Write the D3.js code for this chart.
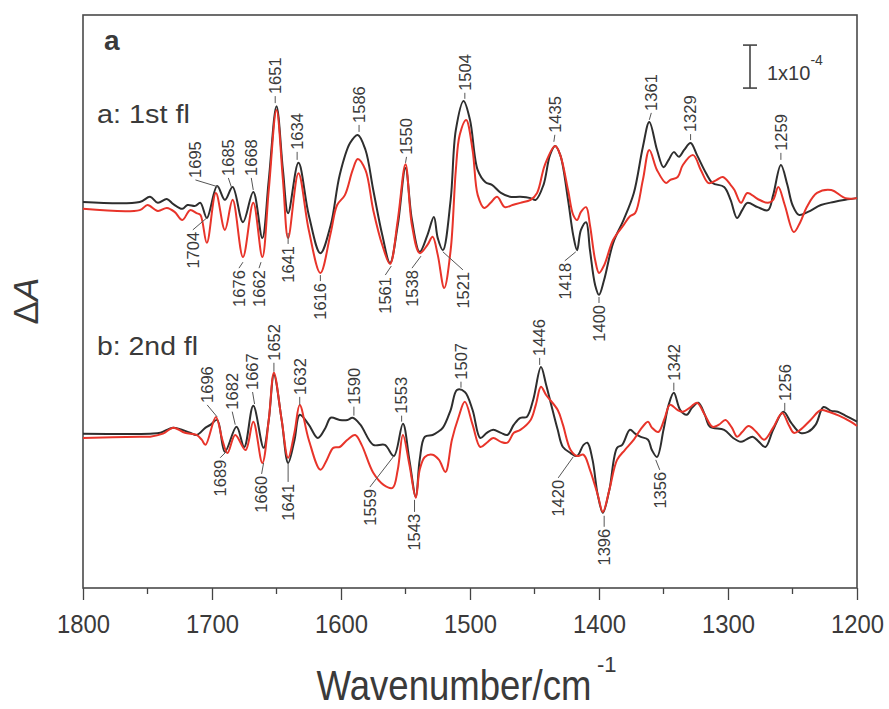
<!DOCTYPE html>
<html>
<head>
<meta charset="utf-8">
<script src="https://d3js.org/d3.v7.min.js"></script>
<style>
    body { margin: 0; background: #fff; }
    svg text { font-family: "Liberation Sans", Arial, sans-serif; fill: #3a3a3a; }
</style>
</head>
<body>
<svg width="889" height="709"></svg>
<script>
"use strict";

// difference spectra, ΔA in units of 1e-4, [wavenumber, value]
// a: 1st flash
var aBlack = [[1800,0.07],[1756,0.07],[1748,0.19],[1742,0.05],[1735,0.14],[1730,0.02],[1723,-0.09],[1719,0],[1713,-0.02],[1709,0.05],[1704,-0.30],[1696,0.44],[1690,0.12],[1684,0.42],[1676,-0.40],[1668,0.30],[1661,-0.77],[1656,0.58],[1650,2.30],[1645,0.81],[1641,-0.19],[1633,0.98],[1625,-0.23],[1616,-1.12],[1608,-0.47],[1601,0.70],[1593,1.44],[1587,1.63],[1581,1.28],[1575,0.35],[1568,-0.70],[1562,-1.35],[1556,-0.47],[1550,0.86],[1545,-0.35],[1539,-1.09],[1533,-0.70],[1528,-0.28],[1525,-0.77],[1521,-1.05],[1515,0.12],[1511,1.74],[1505,2.42],[1500,1.98],[1494,0.81],[1488,0.53],[1483,0.47],[1476,0.28],[1469,0.19],[1461,0.19],[1453,0.16],[1449,0.12],[1443,0.47],[1438,1.16],[1434,1.37],[1430,1.16],[1424,0.12],[1420,-0.70],[1417,-1.05],[1414,-0.58],[1410,-0.40],[1407,-1.05],[1403,-1.86],[1400,-2.09],[1396,-1.74],[1389,-0.88],[1381,-0.35],[1373,0.28],[1366,1.35],[1361,1.93],[1355,1.28],[1350,0.88],[1346,1.05],[1342,1.23],[1338,1.12],[1334,1.28],[1329,1.44],[1324,1.16],[1317,0.74],[1312,0.51],[1303,0.42],[1298,0.12],[1293,-0.30],[1289,-0.12],[1285,0.05],[1277,-0.05],[1269,-0.12],[1265,0.23],[1259,0.93],[1254,0.47],[1250,0],[1245,-0.23],[1238,-0.16],[1228,0],[1218,0.07],[1209,0.12],[1200,0.16]];
var aRed = [[1800,-0.09],[1756,-0.12],[1750,0],[1742,-0.14],[1735,-0.07],[1729,-0.16],[1723,-0.35],[1717,-0.12],[1712,-0.19],[1709,-0.23],[1704,-0.88],[1697,0.28],[1690,-0.58],[1684,0.12],[1676,-1.21],[1668,0.05],[1661,-1.21],[1656,0.35],[1650,2.21],[1645,0.58],[1641,-0.77],[1633,0.74],[1625,-0.58],[1616,-1.58],[1608,-0.65],[1603,0],[1597,0.23],[1591,0.81],[1587,1.07],[1581,0.81],[1575,-0.12],[1568,-0.93],[1562,-1.37],[1556,-0.35],[1550,0.95],[1545,-0.47],[1539,-1.12],[1533,-0.93],[1529,-0.74],[1525,-1.16],[1520,-1.93],[1515,-1.05],[1511,0.81],[1508,1.63],[1503,1.98],[1498,1.28],[1494,0.23],[1489,-0.07],[1484,0.05],[1479,0.19],[1473,-0.05],[1467,0],[1461,0.05],[1453,0.12],[1448,0.28],[1442,0.93],[1434,1.37],[1430,1.16],[1424,0.35],[1420,-0.23],[1417,-0.35],[1414,-0.16],[1410,-0.05],[1407,-0.47],[1403,-1.28],[1400,-1.58],[1396,-1.40],[1389,-0.81],[1381,-0.47],[1376,-0.26],[1372,-0.19],[1366,0.58],[1361,1.28],[1355,0.81],[1348,0.51],[1345,0.58],[1339,0.65],[1335,0.93],[1327,1.16],[1321,0.81],[1315,0.51],[1309,0.58],[1304,0.65],[1298,0.47],[1295,0.35],[1290,0.05],[1285,0.28],[1277,0.14],[1269,0.05],[1265,0.12],[1261,0.42],[1256,0],[1249,-0.63],[1244,-0.40],[1239,-0.05],[1231,0.28],[1220,0.35],[1209,0.16],[1200,0.16]];
// b: 2nd flash
var bBlack = [[1800,0.05],[1748,0.05],[1740,0.07],[1730,0.19],[1717,0.07],[1712,0.02],[1705,0.19],[1701,0.26],[1696,0.37],[1690,-0.37],[1681,0.21],[1675,-0.26],[1668,0.70],[1660,-0.28],[1656,0.37],[1652,1.42],[1646,0.37],[1641,-0.63],[1636,-0.09],[1632,0.49],[1625,0.26],[1618,-0.05],[1612,0.19],[1608,0.42],[1601,0.37],[1595,0.37],[1591,0.42],[1585,0.26],[1575,-0.21],[1566,-0.21],[1559,-0.47],[1552,0.28],[1547,-0.56],[1542,-1.42],[1539,-0.56],[1535,-0.02],[1529,0.02],[1525,0.09],[1521,0.19],[1515,0.60],[1510,1.07],[1504,1.02],[1498,0.60],[1492,-0.05],[1487,0.07],[1482,0.14],[1476,0.07],[1471,0.02],[1466,0.26],[1461,0.42],[1456,0.44],[1451,0.84],[1445,1.60],[1441,1.19],[1436,0.60],[1432,0.14],[1428,-0.26],[1422,-0.40],[1417,-0.47],[1412,-0.21],[1409,-0.16],[1405,-0.56],[1401,-1.37],[1397,-1.79],[1392,-1.26],[1386,-0.28],[1382,-0.21],[1376,0.14],[1372,0.05],[1368,-0.02],[1362,-0.09],[1359,-0.33],[1355,-0.49],[1350,0.14],[1346,0.72],[1342,1.00],[1337,0.60],[1332,0.49],[1328,0.65],[1323,0.77],[1318,0.49],[1314,0.21],[1303,0.14],[1296,-0.05],[1290,-0.14],[1286,-0.09],[1281,-0.02],[1276,-0.14],[1271,-0.26],[1265,0.14],[1257,0.56],[1251,0.30],[1244,0.07],[1238,0.09],[1232,0.26],[1226,0.67],[1220,0.58],[1215,0.56],[1209,0.47],[1200,0.33]];
var bRed = [[1800,-0.05],[1756,-0.02],[1748,-0.02],[1738,0.05],[1730,0.19],[1721,0.07],[1712,0.02],[1708,-0.09],[1705,-0.21],[1697,0.44],[1692,-0.09],[1688,-0.40],[1682,0.02],[1674,-0.33],[1668,0.33],[1661,-0.63],[1656,0.37],[1652,1.47],[1646,0.37],[1641,-0.51],[1636,0.09],[1632,0.72],[1625,-0.09],[1616,-0.79],[1611,-0.56],[1606,-0.28],[1601,-0.26],[1595,-0.09],[1589,0.02],[1584,-0.21],[1575,-0.86],[1567,-1.14],[1560,-1.21],[1556,-0.79],[1552,0.02],[1547,-0.67],[1542,-1.44],[1539,-0.79],[1535,-0.49],[1529,-0.44],[1524,-0.56],[1519,-0.84],[1514,-0.09],[1509,0.42],[1504,0.79],[1498,0.26],[1492,-0.26],[1487,-0.16],[1482,-0.05],[1476,-0.14],[1471,-0.16],[1466,0.07],[1461,0.14],[1453,0.37],[1449,0.72],[1445,1.14],[1441,0.95],[1432,0.60],[1428,0.26],[1422,-0.33],[1417,-0.47],[1412,-0.44],[1407,-0.79],[1401,-1.37],[1397,-1.77],[1392,-1.26],[1386,-0.56],[1380,-0.33],[1373,-0.09],[1368,0.14],[1362,0.33],[1359,0.19],[1354,0.09],[1349,0.42],[1345,0.72],[1339,0.60],[1335,0.56],[1329,0.67],[1324,0.77],[1318,0.49],[1312,0.21],[1307,0.26],[1302,0.37],[1297,0.19],[1293,-0.02],[1289,0.09],[1284,0.23],[1278,0.09],[1272,-0.09],[1265,0.19],[1258,0.53],[1253,0.26],[1249,0.07],[1244,0.14],[1236,0.37],[1228,0.60],[1222,0.56],[1214,0.47],[1205,0.33],[1200,0.23]];

var majorTicks = [1800, 1700, 1600, 1500, 1400, 1300, 1200];
var minorTicks = [1750, 1650, 1550, 1450, 1350, 1250];

// peak labels: [wavenumber, ΔA at the tip, leader dx, leader dy]
var aPeaksUp = [[1695,0.42,-23,-7],[1685,0.42,-3,-9],[1668,0.35,-2,-12],[1651,2.37,0,-7],[1634,1.05,0,-8],[1586,1.70,0,-7],[1550,0.98,1,-6],[1504,2.47,0,-6],[1435,1.47,1,-7],[1361,1.98,2,-7],[1329,1.51,0,-6],[1259,1.05,0,-7]];
var aPeaksDown = [[1704,-0.30,-14,12],[1676,-1.33,-4,6],[1662,-1.33,-2,6],[1641,-0.65,0,11],[1616,-1.63,0,6],[1561,-1.42,-6,9],[1538,-1.19,-9,12],[1521,-1.09,20,18],[1418,-1.09,-11,9],[1400,-2.14,0,6]];
var bPeaksUp = [[1696,0.44,-10,-12],[1682,0.26,-3,-13],[1667,0.74,-2,-12],[1652,1.49,0,-9],[1632,0.72,0,-8],[1590,0.47,0,-9],[1553,0.33,0,-6],[1507,1.12,0,-6],[1446,1.65,0,-7],[1342,1.05,0,-8],[1256,0.58,0,-8]];
var bPeaksDown = [[1689,-0.37,-6,6],[1660,-0.63,-2,11],[1641,-0.63,0,19],[1559,-0.47,-24,31],[1543,-1.49,0,12],[1420,-0.49,-15,21],[1396,-1.86,0,11],[1356,-0.56,4,10]];

var offsetA = 0, offsetB = -5.37, scaleBar = 1;

var svg = d3.select("svg"),
    padL = 83, padR = 857, padT = 15, padB = 588;

var x = d3.scaleLinear().domain([1800, 1200]).range([padL, padR]);
var y = d3.scaleLinear().domain([-8.91, 4.42]).range([padB, padT]);

// x axis
var axis = svg.append("g").attr("transform", "translate(0," + padB + ")")
    .call(d3.axisBottom(x).tickValues(majorTicks).tickSize(12).tickSizeOuter(0).tickFormat(d3.format("d")));
axis.select(".domain").remove();
axis.selectAll(".tick line").attr("stroke", "#444").attr("stroke-width", 1.3);
axis.selectAll(".tick text").attr("y", 45).attr("dy", null)
    .attr("font-size", 25).attr("textLength", 53).attr("lengthAdjust", "spacingAndGlyphs");
svg.append("g").selectAll("line").data(minorTicks).enter().append("line")
    .attr("x1", d => x(d)).attr("x2", d => x(d))
    .attr("y1", padB).attr("y2", padB + 6)
    .attr("stroke", "#444").attr("stroke-width", 1.3);

svg.append("rect")
    .attr("x", padL).attr("y", padT).attr("width", padR - padL).attr("height", padB - padT)
    .attr("fill", "none").attr("stroke", "#4a4a4a").attr("stroke-width", 1.6);

// spectra
function draw(data, off, color) {
    var line = d3.line()
        .x(d => x(d[0]))
        .y(d => y(d[1] + off))
        .curve(d3.curveCatmullRom.alpha(0.5));
    svg.append("path").datum(data)
        .attr("d", line)
        .attr("fill", "none")
        .attr("stroke", color)
        .attr("stroke-width", 2)
        .attr("stroke-linejoin", "round");
}
draw(aBlack, offsetA, "#2e2e2e");
draw(aRed, offsetA, "#e8342a");
draw(bBlack, offsetB, "#2e2e2e");
draw(bRed, offsetB, "#e8342a");

// peak labels
function labels(list, off, up) {
    var g = svg.append("g");
    list.forEach(function(p) {
        var tx = x(p[0]), ty = y(p[1] + off),
            ex = tx + p[2], ey = ty + p[3];
        g.append("line")
            .attr("x1", tx).attr("y1", ty).attr("x2", ex).attr("y2", ey)
            .attr("stroke", "#555").attr("stroke-width", 1);
        g.append("text")
            .attr("transform", "translate(" + ex + "," + (up ? ey - 2 : ey + 2) + ") rotate(-90)")
            .attr("text-anchor", up ? "start" : "end")
            .attr("dy", "0.35em")
            .attr("font-size", 16.5)
            .text(p[0]);
    });
}
labels(aPeaksUp, offsetA, true);
labels(aPeaksDown, offsetA, false);
labels(bPeaksUp, offsetB, true);
labels(bPeaksDown, offsetB, false);

// panel text
svg.append("text").attr("x", 104).attr("y", 50).attr("font-size", 28).attr("font-weight", "bold")
    .attr("fill", "#222").text("a");
svg.append("text").attr("x", 97).attr("y", 123).attr("font-size", 25)
    .attr("textLength", 93).attr("lengthAdjust", "spacingAndGlyphs").text("a: 1st fl");
svg.append("text").attr("x", 97).attr("y", 355).attr("font-size", 25)
    .attr("textLength", 101).attr("lengthAdjust", "spacingAndGlyphs").text("b: 2nd fl");

// scale bar 1x10^-4
var sbX = 750, sbTop = y(3.72), sbBot = y(3.72 - scaleBar);
var sb = svg.append("g").attr("stroke", "#444").attr("stroke-width", 1.6);
sb.append("line").attr("x1", sbX).attr("x2", sbX).attr("y1", sbTop).attr("y2", sbBot);
sb.append("line").attr("x1", sbX - 7).attr("x2", sbX + 7).attr("y1", sbTop).attr("y2", sbTop);
sb.append("line").attr("x1", sbX - 7).attr("x2", sbX + 7).attr("y1", sbBot).attr("y2", sbBot);
var sbt = svg.append("text").attr("x", 767).attr("y", 80).attr("font-size", 20);
sbt.append("tspan").text("1x10");
sbt.append("tspan").attr("font-size", 14).attr("dy", -15).text("-4");

// axis titles (narrow face: squeeze horizontally)
svg.append("text").attr("transform", "translate(454,700) scale(0.87,1)")
    .attr("text-anchor", "middle").attr("font-size", 42)
    .text("Wavenumber/cm");
svg.append("text").attr("x", 597).attr("y", 672).attr("font-size", 22).text("-1");
var yt = svg.append("text").attr("transform", "translate(38,301) rotate(-90)")
    .attr("text-anchor", "middle").attr("font-size", 35);
yt.append("tspan").text("Δ");
yt.append("tspan").attr("font-style", "italic").text("A");
</script>
</body>
</html>
